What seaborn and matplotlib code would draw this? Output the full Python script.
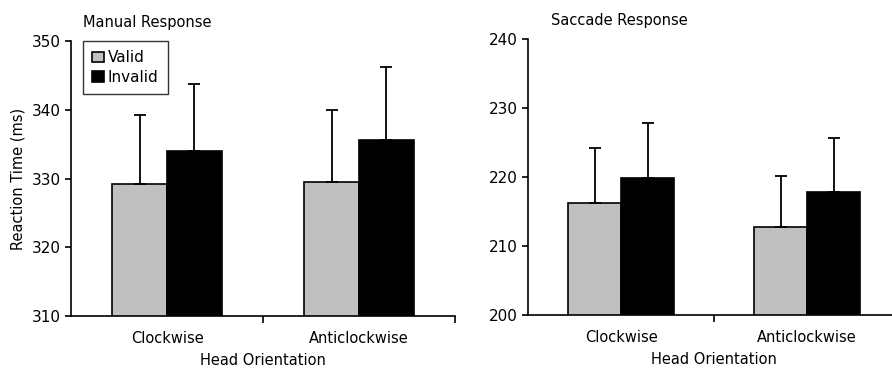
import pandas as pd
import matplotlib
matplotlib.use("Agg")
import matplotlib.pyplot as plt
import seaborn as sns

sns.set_style("ticks")
plt.rcParams["font.family"] = ["DejaVu Sans"]
plt.rcParams["text.color"] = "black"
plt.rcParams["axes.labelcolor"] = "black"
plt.rcParams["xtick.color"] = "black"
plt.rcParams["ytick.color"] = "black"
plt.rcParams["axes.edgecolor"] = "black"

orientations = ["Clockwise", "Anticlockwise"]
cues = ["Valid", "Invalid"]

# mean RT and upper error (ms)
manual_valid = [329.2, 329.5]
manual_invalid = [334.0, 335.6]
manual_valid_err = [10.1, 10.5]
manual_invalid_err = [9.8, 10.6]

saccade_valid = [216.3, 212.8]
saccade_invalid = [219.9, 217.9]
saccade_valid_err = [7.9, 7.3]
saccade_invalid_err = [7.9, 7.7]

colors = {"Valid": "#c0c0c0", "Invalid": "#000000"}


def make_df(valid, invalid, valid_err, invalid_err):
    rows = []
    for i, o in enumerate(orientations):
        rows.append({"Orientation": o, "Cue": "Valid", "RT": valid[i], "err": valid_err[i]})
        rows.append({"Orientation": o, "Cue": "Invalid", "RT": invalid[i], "err": invalid_err[i]})
    return pd.DataFrame(rows)


fig = plt.figure(figsize=(8.92, 3.69), dpi=100)
ax1 = fig.add_axes([0.0796, 0.1436, 0.4305, 0.745])
ax2 = fig.add_axes([0.592, 0.146, 0.417, 0.748])

panels = [
    (ax1, make_df(manual_valid, manual_invalid, manual_valid_err, manual_invalid_err),
     (310, 350), "Manual Response", 0.03, True),
    (ax2, make_df(saccade_valid, saccade_invalid, saccade_valid_err, saccade_invalid_err),
     (200, 240), "Saccade Response", 0.062, False),
]

for ax, df, ylim, title, tx, show_legend in panels:
    sns.barplot(data=df, x="Orientation", y="RT", hue="Cue", order=orientations,
                hue_order=cues, palette=colors, width=0.57, errorbar=None,
                edgecolor="black", linewidth=1.2, ax=ax, legend=show_legend)
    # upper-only error bars on each bar
    for cont, cue in zip(ax.containers, cues):
        sub = df[df["Cue"] == cue].set_index("Orientation").loc[orientations]
        xs = [p.get_x() + p.get_width() / 2 for p in cont.patches]
        ax.errorbar(xs, sub["RT"], yerr=[[0] * len(xs), sub["err"]], fmt="none",
                    ecolor="black", elinewidth=1.3, capsize=4, capthick=1.3, zorder=1)
    ax.set_ylim(*ylim)
    ax.set_xlim(-0.5, 1.5)
    ax.set_yticks(range(ylim[0], ylim[1] + 1, 10))
    ax.set_xticks([0.5, 1.5], minor=True)
    ax.tick_params(axis="x", which="major", length=0, pad=11, labelsize=10.5)
    ax.tick_params(axis="x", which="minor", length=5, width=1.2, direction="out")
    ax.tick_params(axis="y", length=4, width=1.2, labelsize=11)
    ax.set_xlabel("Head Orientation", fontsize=10.5, labelpad=5)
    for s in ["left", "bottom"]:
        ax.spines[s].set_linewidth(1.2)
    sns.despine(ax=ax)
    ax.set_title(title, fontsize=10.5, loc="left", x=tx, y=1.02)

ax1.set_ylabel("Reaction Time (ms)", fontsize=10.5)
ax2.set_ylabel("")

sns.move_legend(ax1, "upper left", bbox_to_anchor=(0.03, 1.0), title=None,
                frameon=True, fancybox=False, fontsize=11, handlelength=0.8,
                handletextpad=0.25, borderpad=0.6, labelspacing=0.3,
                borderaxespad=0)
leg = ax1.get_legend()
leg.get_frame().set_edgecolor("black")
leg.get_frame().set_linewidth(1.0)

fig.savefig("out.png", dpi=100)
